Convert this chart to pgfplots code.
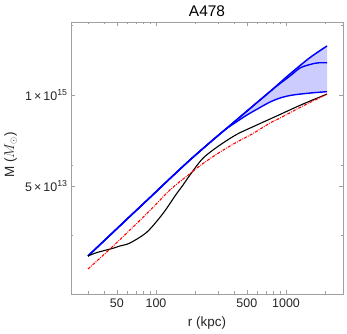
\documentclass[border=0pt]{standalone}
\usepackage{pgfplots}
\pgfplotsset{compat=1.18}
\usepackage{fontspec}
\setmainfont{Liberation Sans}
\definecolor{framegray}{RGB}{160,160,160}
\definecolor{bandfill}{RGB}{204,204,255}
\begin{document}
\begin{tikzpicture}
\useasboundingbox (-71bp,-40bp) rectangle (276bp,294bp);
\begin{axis}[
  at={(0,0)}, anchor=south west,
  scale only axis, width=272bp, height=272bp,
  xmode=log, ymode=log,
  xmin=22.2, xmax=2743, ymin=1.436e12, ymax=1.104e16,
  axis line style={framegray, line width=0.6bp},
  tick style={framegray, line width=0.5bp},
  major tick length=4bp, minor tick length=2.5bp,
  tick align=inside,
  xtick={50,100,500,1000},
  xticklabels={50,100,500,1000},
  minor xtick={30,40,60,70,80,90,200,300,400,600,700,800,900,2000},
  ytick={5e13,1e15},
  yticklabels={5\,×\,10\textsuperscript{13},1\,×\,10\textsuperscript{15}},
  minor ytick={1e13,1e14,1e16},
  ticklabel style={font=\fontsize{12.5}{14}\selectfont, text=black!85},
  xticklabel style={yshift=-1bp},
  every axis title shift=0pt,
  title={A478},
  title style={font=\fontsize{15.5}{18}\selectfont, at={(axis description cs:0.5,1.04)}, anchor=center, yshift=0pt},
  xlabel={r (kpc)},
  label style={font=\fontsize{13.5}{16}\selectfont, text=black!85},
  xlabel style={at={(axis description cs:0.5,-0.1085)}, anchor=center},
  clip=false,
]
% band fill (upper edge forward, lower edge back)
\addplot[fill=bandfill, draw=none] coordinates {
(260.2,2.10e14) (370.9,3.67e14) (450,4.9e14) (528.4,6.42e14) (640,8.4e14) (753.6,1.122e15)
(900,1.5e15) (1073.5,2.0e15) (1280,2.6e15) (1530,3.43e15) (1780,4.15e15) (2067,5.01e15)
(2067,1.115e15) (1671,1.082e15) (1281.6,1.03e15) (1073.5,9.84e14) (899.7,9.06e14)
(753.6,7.94e14) (631.0,6.63e14) (501.2,5.18e14) (419.9,4.18e14) (339.5,3.18e14)} -- cycle;
% upper band edge
\addplot[blue, line width=1.5bp, smooth] coordinates {
(30.0,5.01e12) (44.3,9.94e12) (63.1,1.85e13) (89.9,3.43e13) (128.1,6.41e13)
(182.6,1.18e14) (260.2,2.10e14) (370.9,3.67e14) (528.4,6.42e14) (753.6,1.122e15)
(1073.5,2.0e15) (1530,3.43e15) (2067,5.01e15)};
% lower band edge
\addplot[blue, line width=1.4bp, smooth] coordinates {
(30.0,5.01e12) (44.3,9.94e12) (63.1,1.85e13) (89.9,3.43e13) (128.1,6.41e13)
(182.6,1.18e14) (260.2,2.10e14) (339.5,3.18e14) (419.9,4.18e14) (501.2,5.18e14)
(631.0,6.63e14) (753.6,7.94e14) (899.7,9.06e14) (1073.5,9.84e14) (1281.6,1.03e15)
(1671,1.082e15) (2067,1.115e15)};
% middle curve
\addplot[blue, line width=1.4bp, smooth] coordinates {
(30.0,5.01e12) (44.3,9.94e12) (63.1,1.85e13) (89.9,3.43e13) (128.1,6.41e13)
(182.6,1.18e14) (260.2,2.10e14) (370.9,3.67e14) (528.4,6.42e14) (753.6,1.122e15)
(899.7,1.46e15) (1073.5,1.87e15) (1281.6,2.43e15) (1530,2.73e15) (1763,2.88e15) (2067,2.89e15)};
% black curve
\addplot[black, line width=1.1bp, smooth] coordinates {
(30.0,5.01e12) (35.2,5.62e12) (46.7,6.46e12) (52.9,6.97e12) (63.1,7.69e12)
(85.3,1.104e13) (113.2,2.03e13) (140.0,3.61e13) (161.4,5.18e13) (182.6,7.20e13)
(229.9,1.25e14) (310.6,1.93e14) (419.9,2.75e14) (557.2,3.52e14) (753.6,4.54e14)
(899.7,5.27e14) (1281.6,7.12e14) (1671,8.77e14) (2067,1.03e15)};
% red dash-dotted curve
\addplot[red, line width=1.1bp, smooth, dash pattern=on 3bp off 1.2bp on 0.8bp off 1.2bp] coordinates {
(30.0,3.27e12) (44.3,6.31e12) (63.1,1.18e13) (89.9,2.24e13) (128.1,4.40e13)
(173.2,6.96e13) (229.9,1.05e14) (310.6,1.53e14) (419.9,2.13e14) (557.2,2.82e14)
(753.6,3.98e14) (899.7,4.69e14) (1281.6,6.63e14) (1671,8.48e14) (2067,1.03e15)};
\node[rotate=90, anchor=center, font=\fontsize{13.5}{16}\selectfont, text=black!85]
  at (rel axis cs:-0.222,0.511) {M ($M_{\odot}$)};
\end{axis}
\end{tikzpicture}
\end{document}
